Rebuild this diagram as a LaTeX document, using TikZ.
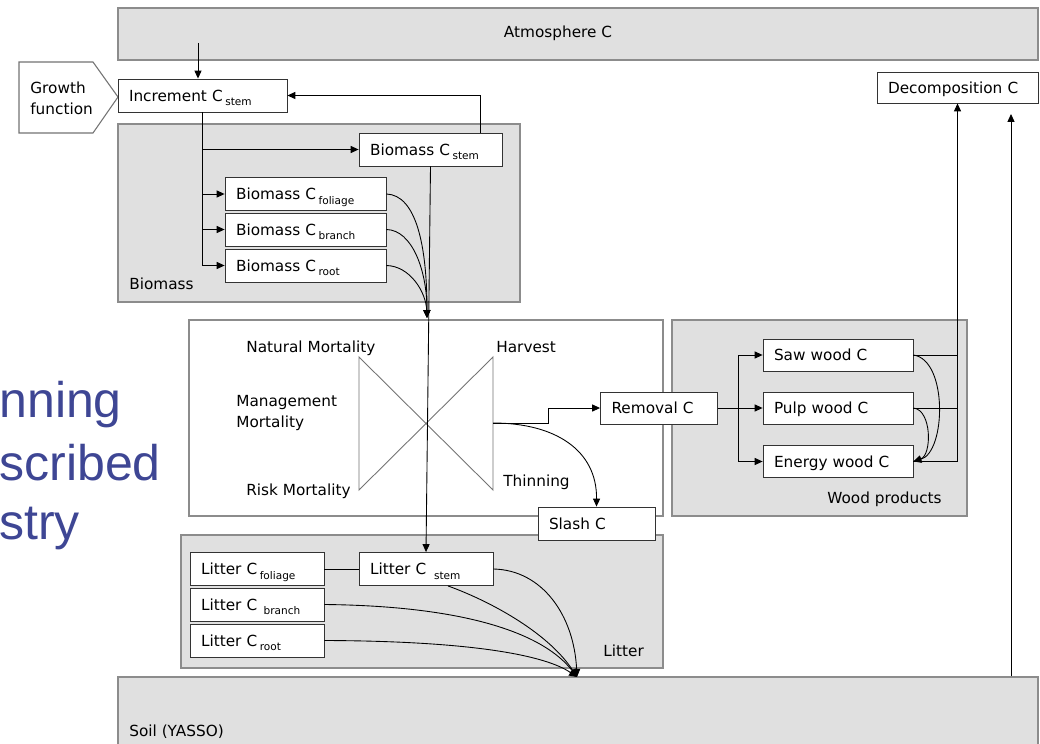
\documentclass[tikz,border=0pt]{standalone}
\usepackage{fontspec}
\setmainfont{DejaVu Sans}
\newfontfamily\slidefont{Liberation Sans}
\usetikzlibrary{arrows.meta}

\definecolor{slideblue}{RGB}{62,70,148}
\newcommand{\poolsub}[1]{\,\smash{\raisebox{-0.5ex}{\fontsize{6}{6}\selectfont #1}}}

\begin{document}
\begin{tikzpicture}[x=0.02cm, y=-0.02cm,
    % Box styles: white pools and grey compartments
    pool/.style={draw=black!80, fill=white, line width=0.5pt, minimum height=0.66cm, inner xsep=0.22cm, inner ysep=0pt, text height=8pt, text depth=1.2pt, align=left, font=\fontsize{8.7}{10.5}\selectfont},
    group/.style={draw=black!45, fill=black!12, line width=0.8pt},
    % Text styles
    tag/.style={anchor=base west, inner sep=0pt, font=\fontsize{8.7}{11.9}\selectfont},
    slide/.style={anchor=base west, inner sep=0pt, text=slideblue, font=\slidefont\fontsize{28.5}{33}\selectfont},
    % Arrow styles
    flow/.style={-{Triangle[length=4.5pt, width=4pt]}, line width=0.5pt},
    link/.style={line width=0.5pt},
    valve/.style={draw=black!55, line width=0.5pt}
]
\useasboundingbox (0,0) rectangle (1040,743);

% Slide text behind the diagram
\node[slide] (s1) at (-1,417) {nning};
\node[slide] (s2) at (-1,480) {scribed};
\node[slide] (s3) at (-1,539) {stry};

% Atmosphere at top
\node[group, minimum width=18.4cm, minimum height=1.04cm] (atm) at (578,34) {};
\node[font=\fontsize{8.7}{10}\selectfont] (atmtext) at (558,33) {Atmosphere C};

% Growth function
\draw[draw=black!55, fill=white, line width=0.6pt] (19,62) -- (93,62) -- (118,97) -- (93,133) -- (19,133) -- cycle;
\node[tag, anchor=west, align=left] (growth) at (30,98) {Growth\\function};

% Compartments
\draw[group] (118,124) rectangle (520,302);
\draw[group, fill=white] (189,320) rectangle (663,516);
\draw[group] (672,320) rectangle (967,516);
\draw[group] (181,535) rectangle (663,668);
\node[group, minimum width=18.4cm, minimum height=1.46cm] (soil) at (578,713.5) {};

\node[tag] (biolbl) at (129,289) {Biomass};
\node[tag] (woodlbl) at (827,503) {Wood products};
\node[tag] (litlbl) at (603,656) {Litter};
\node[tag] (soillbl) at (129,736) {Soil (YASSO)};

% Mortality and harvest
\node[tag] (natmort) at (246,352) {Natural Mortality};
\node[tag, anchor=west, align=left] (mgmtmort) at (236,413) {Management\\Mortality};
\node[tag] (riskmort) at (246,495) {Risk Mortality};
\node[tag] (harvest) at (496,352) {Harvest};
\node[tag] (thinning) at (503,486) {Thinning};
\draw[valve] (359,357) -- (493,490) -- (493,357) -- (359,490) -- cycle;
\coordinate (mortin) at (427,318);
\coordinate (hv) at (493,423);

% Pools
\node[pool, text width=2.94cm] (inc) at (202.5,95.5) {Increment C\poolsub{stem}};
\node[pool, text width=2.42cm] (bstem) at (430.5,149.5) {Biomass C\poolsub{stem}};
\node[pool, text width=2.78cm] (bfol) at (305.5,194) {Biomass C\poolsub{foliage}};
\node[pool, text width=2.78cm] (bbr) at (305.5,229.5) {Biomass C\poolsub{branch}};
\node[pool, text width=2.78cm] (broot) at (305.5,265.5) {Biomass C\poolsub{root}};
\node[pool, text width=2.78cm, minimum height=0.62cm] (decomp) at (957.5,87.5) {Decomposition C};
\node[pool, text width=1.9cm, minimum height=0.64cm] (rem) at (659,408) {Removal C};
\node[pool, text width=2.56cm, minimum height=0.64cm] (saw) at (838,355) {Saw wood C};
\node[pool, text width=2.56cm, minimum height=0.64cm] (pulp) at (838,408) {Pulp wood C};
\node[pool, text width=2.56cm, minimum height=0.64cm] (energy) at (838,461.5) {Energy wood C};
\node[pool, text width=1.9cm] (slash) at (596.5,523.5) {Slash C};
\node[pool, text width=2.24cm] (lfol) at (257,569) {Litter C\poolsub{foliage}};
\node[pool, text width=2.24cm] (lbr) at (257,604.5) {Litter C\hspace{0.25em}\poolsub{branch}};
\node[pool, text width=2.24cm] (lroot) at (257,640.5) {Litter C\poolsub{root}};
\node[pool, text width=2.24cm] (lstem) at (426,569) {Litter C\hspace{0.35em}\poolsub{stem}};

% Uptake and allocation
\coordinate (atmout) at (198,43);
\draw[flow] (atmout) -- (atmout |- inc.north);
\draw[link] (inc.south) -- (inc.south |- broot.west);
\draw[flow] (inc.south |- bstem.west) -- (bstem.west);
\draw[flow] (inc.south |- bfol.west) -- (bfol.west);
\draw[flow] (inc.south |- bbr.west) -- (bbr.west);
\draw[flow] (inc.south |- broot.west) -- (broot.west);
\draw[flow] ([xshift=1.0cm]bstem.north) |- (inc.east);

% Biomass to mortality and litter
\draw[flow] (bstem.south) -- (lstem.north);
\draw[flow] (bfol.east) .. controls (416,195) and (427,245) .. (mortin);
\draw[flow] (bbr.east) .. controls (412,230) and (427,270) .. (mortin);
\draw[flow] (broot.east) .. controls (410,266) and (426,292) .. (mortin);

% Harvest to removal and slash
\draw[flow] (hv) -- ++(55,0) |- (rem.west);
\draw[flow] (hv) .. controls (555,423) and (597,450) .. (slash.north);

% Wood products
\coordinate (split) at (738,408);
\draw[flow] (rem.east) -- (pulp.west);
\draw[flow] (split) |- (saw.west);
\draw[flow] (split) |- (energy.west);
\draw[link] (saw.east) -- (saw.east -| decomp.south);
\draw[link] (pulp.east) -- (pulp.east -| decomp.south);
\draw[flow] (energy.east) -| (decomp.south);
\draw[flow] (saw.east) .. controls (948,360) and (946,452) .. (energy.east);
\draw[flow] (pulp.east) .. controls (932,410) and (932,455) .. (energy.east);

% Litter to soil
\coordinate (litout) at (577,677);
\draw[link] (lfol.east) -- (lstem.west);
\draw[flow] (lstem.east) .. controls (542,570) and (574,615) .. (litout);
\draw[flow] ([xshift=0.44cm]lstem.south) .. controls (495,603) and (550,635) .. (litout);
\draw[flow] (lbr.east) .. controls (470,606) and (545,635) .. (litout);
\draw[flow] (lroot.east) .. controls (470,641) and (545,655) .. (litout);

% Soil to decomposition
\coordinate (soilup) at (1011,114);
\draw[flow] (soilup |- soil.north) -- (soilup);

\end{tikzpicture}
\end{document}
